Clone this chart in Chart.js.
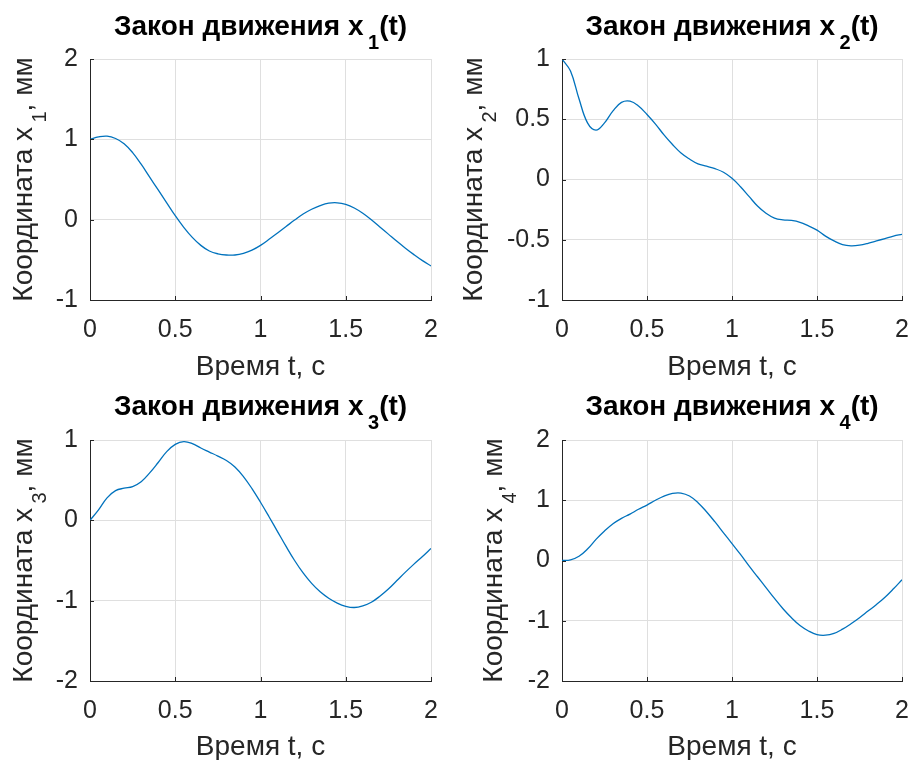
<!DOCTYPE html>
<html>
<head>
<meta charset="utf-8">
<script src="https://cdn.jsdelivr.net/npm/chart.js@4.4.1/dist/chart.umd.min.js"></script>
<style>
  body { margin: 0; background: #fff; }
  #wrap { position: relative; width: 909px; height: 760px; }
  canvas { position: absolute; }
</style>
</head>
<body>
<div id="wrap">
  <canvas id="c1" width="450" height="380" style="left:0;top:0"></canvas>
  <canvas id="c2" width="459" height="380" style="left:450px;top:0"></canvas>
  <canvas id="c3" width="450" height="380" style="left:0;top:380px"></canvas>
  <canvas id="c4" width="459" height="380" style="left:450px;top:380px"></canvas>
</div>
<script>
// time, s
const timeS = [0, 0.05, 0.1, 0.15, 0.2, 0.25, 0.3, 0.35, 0.4, 0.45, 0.5, 0.55, 0.6, 0.65, 0.7, 0.75, 0.8, 0.85, 0.9, 0.95,
               1, 1.05, 1.1, 1.15, 1.2, 1.25, 1.3, 1.35, 1.4, 1.45, 1.5, 1.55, 1.6, 1.65, 1.7, 1.75, 1.8, 1.85, 1.9, 1.95, 2];

// coordinates, mm
const x1Values = [1.00, 1.03, 1.04, 1.01, 0.945, 0.835, 0.69, 0.53, 0.37, 0.21, 0.05, -0.095, -0.22, -0.32, -0.39, -0.425, -0.44, -0.44, -0.42, -0.38,
                  -0.32, -0.245, -0.165, -0.085, -0.005, 0.07, 0.13, 0.175, 0.205, 0.21, 0.19, 0.145, 0.08, 0.0, -0.09, -0.18, -0.27, -0.355, -0.435, -0.51, -0.577];
const x2Values = [1.00, 0.90, 0.67, 0.47, 0.41, 0.47, 0.57, 0.64, 0.65, 0.61, 0.54, 0.46, 0.37, 0.29, 0.22, 0.17, 0.13, 0.11, 0.09, 0.06,
                  0.01, -0.06, -0.14, -0.22, -0.28, -0.32, -0.335, -0.34, -0.355, -0.385, -0.42, -0.47, -0.51, -0.54, -0.55, -0.545, -0.53, -0.51, -0.49, -0.47, -0.455];
const x3Values = [0, 0.13, 0.28, 0.37, 0.40, 0.42, 0.48, 0.59, 0.72, 0.855, 0.945, 0.98, 0.955, 0.90, 0.85, 0.80, 0.745, 0.665, 0.545, 0.395,
                  0.225, 0.045, -0.14, -0.325, -0.50, -0.655, -0.785, -0.89, -0.97, -1.03, -1.07, -1.085, -1.065, -1.02, -0.945, -0.855, -0.75, -0.645, -0.545, -0.45, -0.35];
const x4Values = [0, 0.01, 0.07, 0.19, 0.35, 0.49, 0.61, 0.70, 0.77, 0.85, 0.92, 1.00, 1.07, 1.115, 1.12, 1.07, 0.96, 0.81, 0.64, 0.46,
                  0.28, 0.10, -0.09, -0.27, -0.45, -0.63, -0.80, -0.95, -1.08, -1.17, -1.23, -1.24, -1.21, -1.14, -1.05, -0.95, -0.84, -0.73, -0.61, -0.47, -0.32];

const timeTicks = [0, 0.5, 1, 1.5, 2];
const x1Ticks = [-1, 0, 1, 2];
const x2Ticks = [-1, -0.5, 0, 0.5, 1];
const x3Ticks = [-2, -1, 0, 1];
const x4Ticks = [-2, -1, 0, 1, 2];

const titleText = 'Закон движения x';
const yLabelText = 'Координата x';
const yLabelUnit = ', мм';
const xLabelText = 'Время t, с';

const FONT = "'Liberation Sans', Arial, Helvetica, sans-serif";
const TEXT = '#262626';

// draws "before" + subscript + "after" on the current baseline, centred on x=0
function drawSub(ctx, before, sub, after, size, weight) {
  const subSize = Math.round(size * 0.72);
  const gap = size * 0.16;
  const main = weight + ' ' + size + 'px ' + FONT;
  const small = weight + ' ' + subSize + 'px ' + FONT;
  ctx.font = main;
  const w1 = ctx.measureText(before).width;
  const w3 = ctx.measureText(after).width;
  ctx.font = small;
  const w2 = ctx.measureText(sub).width;
  let x = -(w1 + gap + w2 + w3) / 2;
  ctx.textAlign = 'left';
  ctx.textBaseline = 'alphabetic';
  ctx.font = main;
  ctx.fillText(before, x, 0);
  x += w1 + gap;
  ctx.font = small;
  ctx.fillText(sub, x, size * 0.5);
  x += w2;
  ctx.font = main;
  ctx.fillText(after, x, 0);
}

const labelsPlugin = {
  id: 'subLabels',
  afterDraw(chart, args, opts) {
    const {ctx, chartArea: a} = chart;
    const cx = (a.left + a.right) / 2;
    const cy = (a.top + a.bottom) / 2;

    // inward tick marks
    ctx.save();
    ctx.strokeStyle = TEXT;
    ctx.lineWidth = 1;
    ctx.beginPath();
    chart.scales.x.ticks.forEach(t => {
      const px = Math.round(chart.scales.x.getPixelForValue(t.value)) + 0.5;
      ctx.moveTo(px, a.bottom);
      ctx.lineTo(px, a.bottom - 4);
    });
    chart.scales.y.ticks.forEach(t => {
      const py = Math.round(chart.scales.y.getPixelForValue(t.value)) + 0.5;
      ctx.moveTo(a.left, py);
      ctx.lineTo(a.left + 4, py);
    });
    ctx.stroke();

    // title
    ctx.fillStyle = '#000';
    ctx.translate(cx, 35);
    drawSub(ctx, titleText, opts.index, '(t)', 28, 'bold');
    ctx.restore();

    // y axis label
    ctx.save();
    ctx.fillStyle = TEXT;
    ctx.translate(opts.labelX, cy);
    ctx.rotate(-Math.PI / 2);
    drawSub(ctx, yLabelText, opts.index, yLabelUnit, 28, 'normal');
    ctx.restore();
  }
};

function makePlot(id, values, yTicks, index, box) {
  const yMin = yTicks[0];
  const yMax = yTicks[yTicks.length - 1];
  return new Chart(document.getElementById(id), {
    type: 'line',
    data: {
      datasets: [{
        data: timeS.map((t, i) => ({x: t, y: values[i]})),
        borderColor: '#0072BD',
        borderWidth: 1.3,
        pointRadius: 0,
        tension: 0.4,
        fill: false
      }]
    },
    plugins: [labelsPlugin],
    options: {
      responsive: false,
      devicePixelRatio: 1,
      animation: false,
      layout: { padding: { top: box.top, right: box.right, left: 0, bottom: 0 } },
      plugins: {
        legend: { display: false },
        tooltip: { enabled: false },
        subLabels: { index: index, labelX: box.labelX }
      },
      scales: {
        x: {
          type: 'linear',
          min: 0,
          max: 2,
          afterBuildTicks: s => { s.ticks = timeTicks.map(v => ({value: v})); },
          afterFit: s => { s.height = box.bottom; s.paddingLeft = 0; s.paddingRight = 0; },
          grid: { color: '#dfdfdf', drawTicks: false },
          border: { display: true, color: TEXT, width: 1 },
          ticks: { color: TEXT, font: { family: FONT, size: 25 }, padding: 15, maxRotation: 0, callback: v => String(v) },
          title: { display: true, text: xLabelText, color: TEXT, font: { family: FONT, size: 28 }, padding: { top: 0, bottom: -4 } }
        },
        y: {
          type: 'linear',
          min: yMin,
          max: yMax,
          afterBuildTicks: s => { s.ticks = yTicks.map(v => ({value: v})); },
          afterFit: s => { s.width = box.left; s.paddingTop = 0; s.paddingBottom = 0; },
          grid: { color: '#dfdfdf', drawTicks: false },
          border: { display: true, color: TEXT, width: 1 },
          ticks: { color: TEXT, font: { family: FONT, size: 25 }, padding: 12, callback: v => String(v) }
        }
      }
    }
  });
}

makePlot('c1', x1Values, x1Ticks, '1', { left: 90, top: 59, right: 19, bottom: 80, labelX: 32 });
makePlot('c2', x2Values, x2Ticks, '2', { left: 112, top: 59, right: 7, bottom: 80, labelX: 32 });
makePlot('c3', x3Values, x3Ticks, '3', { left: 90, top: 60, right: 19, bottom: 79, labelX: 32 });
makePlot('c4', x4Values, x4Ticks, '4', { left: 112, top: 60, right: 7, bottom: 79, labelX: 52 });
</script>
</body>
</html>
